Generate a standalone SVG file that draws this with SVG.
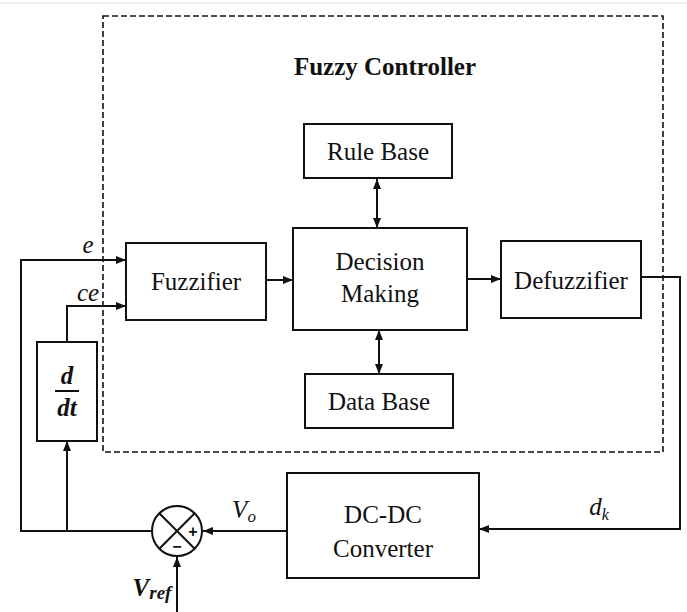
<svg xmlns="http://www.w3.org/2000/svg" width="687" height="612" viewBox="0 0 687 612">
<style>
.box{fill:#fff;stroke:#111;stroke-width:2}
.ln{fill:none;stroke:#111;stroke-width:2}
.t{font-family:"Liberation Serif","Times New Roman",serif;font-size:25px;fill:#111;text-anchor:middle}
.i{font-style:italic}
</style>
<defs>
<marker id="ah" viewBox="0 0 10 8" refX="10" refY="4" markerWidth="10" markerHeight="8" markerUnits="userSpaceOnUse" orient="auto-start-reverse">
<path d="M0,0 L10,4 L0,8 Z" fill="#111"/>
</marker>
</defs>
<rect width="687" height="612" fill="#fff"/>
<line x1="0" y1="3" x2="687" y2="3" stroke="#ddd" stroke-width="1"/>
<g id="fuzzy-controller">
<rect x="103" y="16" width="560" height="436" fill="none" stroke="#111" stroke-width="1.6" stroke-dasharray="6,3"/>
<text class="t" x="385" y="75" font-weight="bold" font-size="24">Fuzzy Controller</text>
</g>
<g id="connectors">
<line class="ln" x1="266" y1="280" x2="293" y2="280" marker-end="url(#ah)"/>
<line class="ln" x1="467" y1="279" x2="501" y2="279" marker-end="url(#ah)"/>
<line class="ln" x1="377" y1="179" x2="377" y2="228" marker-start="url(#ah)" marker-end="url(#ah)"/>
<line class="ln" x1="379" y1="330" x2="379" y2="374" marker-start="url(#ah)" marker-end="url(#ah)"/>
<polyline class="ln" points="641,277 680,277 680,529 479,529" marker-end="url(#ah)"/>
<line class="ln" x1="287" y1="531" x2="203" y2="531" marker-end="url(#ah)"/>
<line class="ln" x1="177" y1="612" x2="177" y2="557" marker-end="url(#ah)"/>
<polyline class="ln" points="152,531 21,531 21,260 126,260" marker-end="url(#ah)"/>
<line class="ln" x1="67" y1="531" x2="67" y2="441" marker-end="url(#ah)"/>
<polyline class="ln" points="67,342 67,306 126,306" marker-end="url(#ah)"/>
<text class="t i" x="88" y="253">e</text>
<text class="t i" x="88" y="301">ce</text>
<text class="t i" x="244" y="518">V<tspan font-size="17" dy="4">o</tspan></text>
<text class="t i" x="599" y="515">d<tspan font-size="16" dy="5">k</tspan></text>
<text class="t i" x="152" y="596" font-weight="bold">V<tspan font-size="19" dy="3">ref</tspan></text>
</g>
<g id="rule-base">
<rect class="box" x="304" y="124" width="148" height="54"/>
<text class="t" x="378" y="160">Rule Base</text>
</g>
<g id="decision-making">
<rect class="box" x="293" y="228" width="174" height="102"/>
<text class="t" x="380" y="270">Decision</text>
<text class="t" x="380" y="302">Making</text>
</g>
<g id="data-base">
<rect class="box" x="305" y="374" width="148" height="54"/>
<text class="t" x="379" y="410">Data Base</text>
</g>
<g id="fuzzifier">
<rect class="box" x="126" y="243" width="140" height="77"/>
<text class="t" x="196" y="290">Fuzzifier</text>
</g>
<g id="defuzzifier">
<rect class="box" x="501" y="241" width="140" height="77"/>
<text class="t" x="571" y="289">Defuzzifier</text>
</g>
<g id="ddt">
<rect class="box" x="37" y="342" width="60" height="99"/>
<text class="t i" x="67" y="384" font-weight="bold" font-size="27">d</text>
<line x1="55" y1="391" x2="79" y2="391" stroke="#111" stroke-width="2"/>
<text class="t i" x="67" y="416" font-weight="bold" font-size="27">dt</text>
</g>
<g id="dc-dc-converter">
<rect class="box" x="287" y="473" width="192" height="105"/>
<text class="t" x="383" y="523">DC-DC</text>
<text class="t" x="383" y="557">Converter</text>
</g>
<g id="summing-junction">
<circle cx="177" cy="531" r="25" fill="#fff" stroke="#111" stroke-width="2"/>
<line x1="159.3" y1="513.3" x2="194.7" y2="548.7" stroke="#111" stroke-width="2"/>
<line x1="194.7" y1="513.3" x2="159.3" y2="548.7" stroke="#111" stroke-width="2"/>
<text x="193" y="537" font-family="Liberation Sans, Arial, sans-serif" font-size="16" font-weight="bold" text-anchor="middle" fill="#111">+</text>
<text x="177" y="552" font-family="Liberation Sans, Arial, sans-serif" font-size="16" font-weight="bold" text-anchor="middle" fill="#111">−</text>
</g>
</svg>
